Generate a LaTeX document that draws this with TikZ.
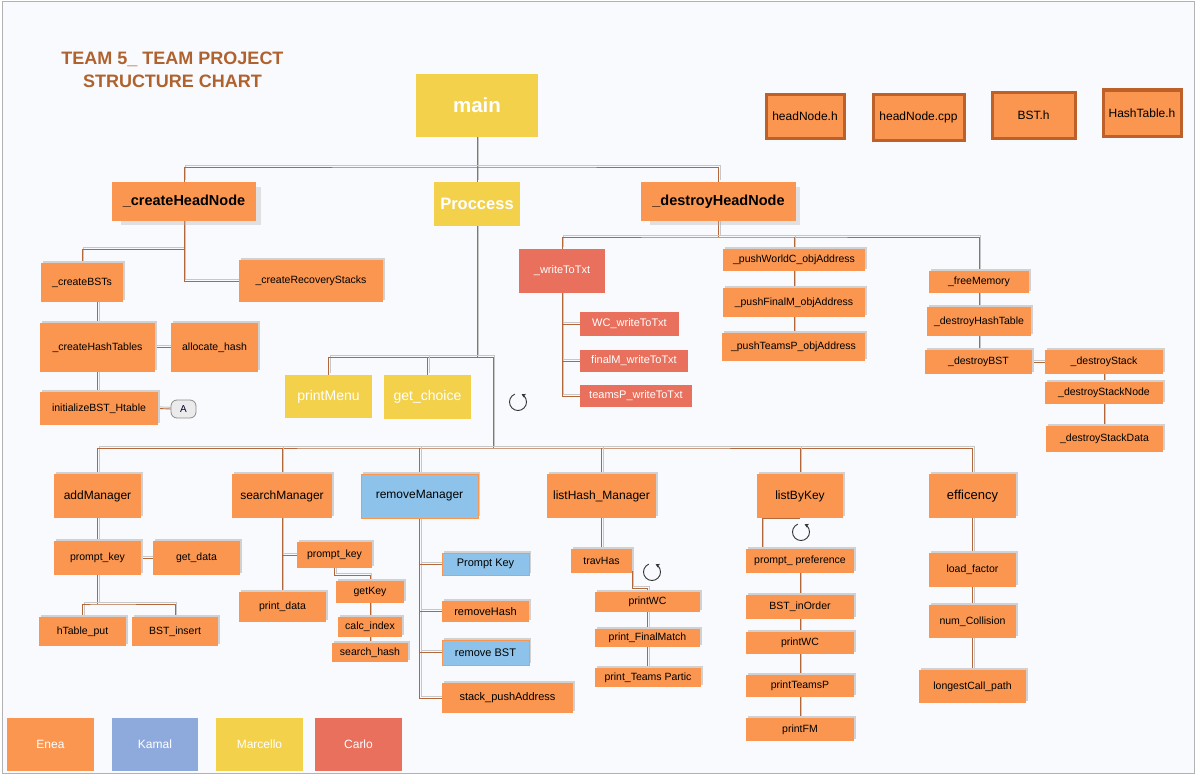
\documentclass[tikz,border=0pt]{standalone}
\usepackage{fontspec}
\setmainfont{Liberation Sans}
\usetikzlibrary{calc,shadows,arrows.meta,backgrounds}
\definecolor{cor}{RGB}{251,150,80}
\definecolor{cye}{RGB}{243,209,75}
\definecolor{cre}{RGB}{232,112,92}
\definecolor{cbl}{RGB}{141,195,234}
\definecolor{cka}{RGB}{142,170,221}
\definecolor{cln}{RGB}{178,104,58}
\definecolor{cbg}{RGB}{249,250,253}
\definecolor{ctitle}{RGB}{176,98,46}
\definecolor{chd}{RGB}{190,96,42}
\newcommand\fsz[1]{\fontsize{#1}{#1}\selectfont}
\begin{document}
\begin{tikzpicture}[x=1pt,y=-1pt,
  bx/.style n args={2}{minimum width=#1pt, minimum height=#2pt},
  base/.style={inner sep=0pt, outer sep=0pt, text=black, font=\fsz{10.5}},
  sh/.style={drop shadow={shadow xshift=1.6pt, shadow yshift=1.6pt, fill=black!18, opacity=1}},
  ob/.style={base, fill=cor, sh},
  bb/.style={base, fill=cbl, draw=cor, line width=0.8pt, sh},
  rb/.style={base, fill=cre, text=white, font=\fsz{11}},
  yb/.style={base, fill=cye, text=white},
  hb/.style={base, fill=cor, draw=chd, line width=3pt, font=\fsz{12}},
  topb/.style={base, fill=cor, font=\bfseries\fsz{14.5},
     drop shadow={shadow xshift=7pt, shadow yshift=-5pt, shadow scale=0.97, fill=black!30, opacity=0.35}},
  mgr/.style={font=\fsz{12}},
  leg/.style={base, text=white, font=\fsz{12}},
  conn/.style={draw=cln, line width=0.9pt,
     preaction={draw=black!22, line width=1pt, transform canvas={xshift=1.6pt,yshift=1.6pt}}},
  rot/.style={draw=black!80, line width=0.9pt, -{Stealth[length=4pt,width=4.5pt]}}
]
\useasboundingbox (0,0) rectangle (1197,776);
\begin{scope}[on background layer]
\fill[white] (0,0) rectangle (1197,776);
\draw[black!30, fill=cbg, line width=1pt] (2.5,1.5) rectangle (1194.5,773.5);
\end{scope}

% title
\node[text=ctitle, font=\bfseries\fsz{18}, align=center, inner sep=0pt] (title) at (172.5,69.5)
  {TEAM 5\_ TEAM PROJECT\\[5pt]STRUCTURE CHART};

% top level
\node[yb, bx={122}{63}, font=\bfseries\fsz{20.5}] (main) at (477,105.5) {main};
\node[yb, bx={86}{44}, font=\bfseries\fsz{16.5}] (proc) at (477,204) {Proccess};
\node[topb, bx={144}{39}] (chn) at (184,201.5) {\_createHeadNode};
\node[topb, bx={155}{39}] (dhn) at (718.5,201.5) {\_destroyHeadNode};

% header files
\node[hb, bx={78}{44}] (hnh) at (805,116) {headNode.h};
\node[hb, bx={91}{46}] (hnc) at (918.5,117) {headNode.cpp};
\node[hb, bx={83}{46}] (bsth) at (1033.5,115) {BST.h};
\node[hb, bx={78}{46}] (hth) at (1142,113) {HashTable.h};

% create branch
\node[ob, bx={82}{39}] (cbst) at (82,282.5) {\_createBSTs};
\node[ob, bx={144}{42}] (crs) at (311,281) {\_createRecoveryStacks};
\node[ob, bx={115}{49}] (cht) at (97.5,347.5) {\_createHashTables};
\node[ob, bx={87}{49}] (ah) at (214.5,347.5) {allocate\_hash};
\node[ob, bx={118}{33}] (ibh) at (99,408.5) {initializeBST\_Htable};
\node[base, bx={25}{18}, rounded corners=6pt, fill=black!8, draw=black!45, line width=0.8pt, text=black!80!blue, font=\fsz{10}] (pa) at (183.5,409) {A};

% process children
\node[yb, bx={87}{43}, font=\fsz{14}] (pm) at (328.5,396.5) {printMenu};
\node[yb, bx={87}{44}, font=\fsz{14}] (gc) at (427.5,397) {get\_choice};

% destroy branch
\node[rb, bx={86}{44}] (wtt) at (562,271) {\_writeToTxt};
\node[rb, bx={99}{24}] (wc) at (629.5,324) {WC\_writeToTxt};
\node[rb, bx={108}{22}] (fmw) at (634,361) {finalM\_writeToTxt};
\node[rb, bx={112}{22}] (tpw) at (636,396) {teamsP\_writeToTxt};
\node[ob, bx={142}{22}] (pwca) at (794,260) {\_pushWorldC\_objAddress};
\node[ob, bx={142}{29}] (pfma) at (794,302.5) {\_pushFinalM\_objAddress};
\node[ob, bx={143}{28}] (ptpa) at (793.5,347) {\_pushTeamsP\_objAddress};
\node[ob, bx={100}{22}] (fmem) at (979,282) {\_freeMemory};
\node[ob, bx={104}{29}] (dht) at (979,321.5) {\_destroyHashTable};
\node[ob, bx={107}{24}] (dbst) at (978.5,362) {\_destroyBST};
\node[ob, bx={118}{24}] (ds) at (1104,362) {\_destroyStack};
\node[ob, bx={118}{22}] (dsn) at (1104,393) {\_destroyStackNode};
\node[ob, bx={117}{26}] (dsd) at (1104.5,439) {\_destroyStackData};

% managers
\node[ob, mgr, bx={87}{44}] (am) at (97.5,496) {addManager};
\node[ob, mgr, bx={100}{44}] (sm) at (282,496) {searchManager};
\node[bb, mgr, bx={117}{44}] (rm) at (419.5,496) {removeManager};
\node[ob, mgr, bx={109}{44}] (lh) at (601.5,496) {listHash\_Manager};
\node[ob, mgr, bx={86}{44}] (lk) at (800,496) {listByKey};
\node[ob, bx={87}{44}, font=\fsz{13}] (ef) at (972.5,496) {efficency};

% add
\node[ob, bx={87}{34}] (pk1) at (97.5,558) {prompt\_key};
\node[ob, bx={87}{34}] (gd) at (196.5,558) {get\_data};
\node[ob, bx={87}{29}] (htp) at (82.5,631.5) {hTable\_put};
\node[ob, bx={86}{29}] (bsti) at (175,631.5) {BST\_insert};

% search
\node[ob, bx={75}{26}] (pk2) at (334.5,555) {prompt\_key};
\node[ob, bx={87}{30}] (pd) at (282.5,607) {print\_data};
\node[ob, bx={68}{22}] (gk) at (370,592) {getKey};
\node[ob, bx={64}{20}] (ci) at (370,627) {calc\_index};
\node[ob, bx={76}{19}] (shs) at (370,652.5) {search\_hash};

% remove
\node[bb, bx={87}{22}, font=\fsz{11}] (rpk) at (485.5,564) {Prompt Key};
\node[ob, bx={87}{21}, font=\fsz{11}] (rh) at (485.5,611.5) {removeHash};
\node[bb, bx={87}{25}, font=\fsz{11}] (rbst) at (485.5,652.5) {remove BST};
\node[ob, bx={131}{30}, font=\fsz{11}] (spa) at (507.5,698) {stack\_pushAddress};

% listHash
\node[ob, bx={61}{24}] (th) at (601.5,561) {travHas};
\node[ob, bx={105}{20}] (pwc1) at (647.5,602) {printWC};
\node[ob, bx={105}{18}] (pfm) at (647.5,638) {print\_FinalMatch};
\node[ob, bx={106}{19}] (ptp) at (648,677.5) {print\_Teams Partic};

% listByKey
\node[ob, bx={108}{24}] (ppf) at (800,561) {prompt\_ preference};
\node[ob, bx={108}{24}] (bio) at (800,607) {BST\_inOrder};
\node[ob, bx={108}{22}] (pwc2) at (800,643) {printWC};
\node[ob, bx={108}{22}] (ptsp) at (800,686) {printTeamsP};
\node[ob, bx={108}{23}] (pfm2) at (800,729.5) {printFM};

% efficency
\node[ob, bx={87}{34}] (lf) at (972.5,570) {load\_factor};
\node[ob, bx={87}{33}] (nc) at (972.5,621.5) {num\_Collision};
\node[ob, bx={107}{33}] (lcp) at (972.5,686.5) {longestCall\_path};

% legend
\node[leg, fill=cor, bx={87}{53}] (en) at (50.5,744.5) {Enea};
\node[leg, fill=cka, bx={86}{53}] (ka) at (155,744.5) {Kamal};
\node[leg, fill=cye, bx={87}{53}] (ma) at (259.5,744.5) {Marcello};
\node[leg, fill=cre, bx={87}{53}] (ca) at (358.5,744.5) {Carlo};

% bus coordinates
\coordinate (tbus) at (477,167);
\coordinate (dbus) at (718.5,237);
\coordinate (pbus) at (477,357);
\coordinate (pbr) at (493,357);
\coordinate (mbus) at (493,448);
\coordinate (cbus) at (184,249);

% connectors
\begin{scope}[on background layer]
\draw[conn] (main.south) -- (proc.north);
\draw[conn] (chn.north) |- (tbus) -| (dhn.north);
\draw[conn] (chn.south) -- (cbus) -| (cbst.north);
\draw[conn] (cbus) |- (crs.west);
\draw[conn] (cht.north |- cbst.south) -- (cht.north);
\draw[conn] (cht.south) -- (cht.south |- ibh.north);
\draw[conn] (cht.east) -- (ah.west);
\draw[conn] (ibh.east) -- (pa.west);

\draw[conn] (proc.south) -- (pbus);
\draw[conn] (pm.north) |- (pbr) -- (mbus);
\draw[conn] (gc.north) -- (gc.north |- pbr);

\draw[conn] (dhn.south) -- (dbus);
\draw[conn] (wtt.north) |- (dbus) -| (fmem.north);
\draw[conn] (pwca.north) -- (pwca.north |- dbus);
\draw[conn] (pwca.south) -- (pfma.north);
\draw[conn] (pfma.south) -- (pfma.south |- ptpa.north);
\draw[conn] (wtt.south) |- (tpw.west);
\draw[conn] (wtt.south |- wc.west) -- (wc.west);
\draw[conn] (wtt.south |- fmw.west) -- (fmw.west);
\draw[conn] (fmem.south) -- (dht.north);
\draw[conn] (dht.south) -- (dht.south |- dbst.north);
\draw[conn] (dbst.east) -- (ds.west);
\draw[conn] (ds.south) -- (dsn.north);
\draw[conn] (dsn.south) -- (dsn.south |- dsd.north);

\draw[conn] (am.north) |- (mbus) -| (ef.north);
\draw[conn] (sm.north) -- (sm.north |- mbus);
\draw[conn] (rm.north) -- (rm.north |- mbus);
\draw[conn] (lh.north) -- (lh.north |- mbus);
\draw[conn] (lk.north) -- (lk.north |- mbus);

\draw[conn] (am.south) -- (pk1.north);
\draw[conn] (pk1.east) -- (gd.west);
\draw[conn] (pk1.south) -- ($(pk1.south)+(0,29)$) coordinate (abus);
\draw[conn] (htp.north) |- (abus) -| (bsti.north);

\draw[conn] (sm.south) -- (sm.south |- pd.north);
\draw[conn] (sm.south |- pk2.west) -- (pk2.west);
\draw[conn] (pk2.south) -- ($(pk2.south)+(0,7)$) -| (gk.north);
\draw[conn] (gk.south) -- (ci.north);
\draw[conn] (ci.south) -- (shs.north);

\draw[conn] (rm.south) |- (spa.west);
\draw[conn] (rm.south |- rpk.west) -- (rpk.west);
\draw[conn] (rm.south |- rh.west) -- (rh.west);
\draw[conn] (rm.south |- rbst.west) -- (rbst.west);

\draw[conn] (lh.south) -- (th.north);
\draw[conn] (th.east) -- ($(th.east)+(0,27)$) -| (pwc1.north);
\draw[conn] (pwc1.south) -- (pfm.north);
\draw[conn] (pfm.south) -- (pfm.south |- ptp.north);

\draw[conn] (lk.south) -| ($(ppf.north)+(-38,0)$);
\draw[conn] (ppf.south) -- (bio.north);
\draw[conn] (bio.south) -- (pwc2.north);
\draw[conn] (pwc2.south) -- (ptsp.north);
\draw[conn] (ptsp.south) -- (pfm2.north);

\draw[conn] (ef.south) -- (lf.north);
\draw[conn] (lf.south) -- (nc.north);
\draw[conn] (nc.south) -- (lcp.north);
\end{scope}

% rotation symbols
\coordinate (r1) at (518,402);
\coordinate (r2) at (652,572);
\coordinate (r3) at (801,532);
\foreach \r in {r1,r2,r3}{
  \draw[rot] ([shift={(-112:8.5)}]\r) arc[start angle=-112, end angle=-425, radius=8.5];
}
\end{tikzpicture}
\end{document}
